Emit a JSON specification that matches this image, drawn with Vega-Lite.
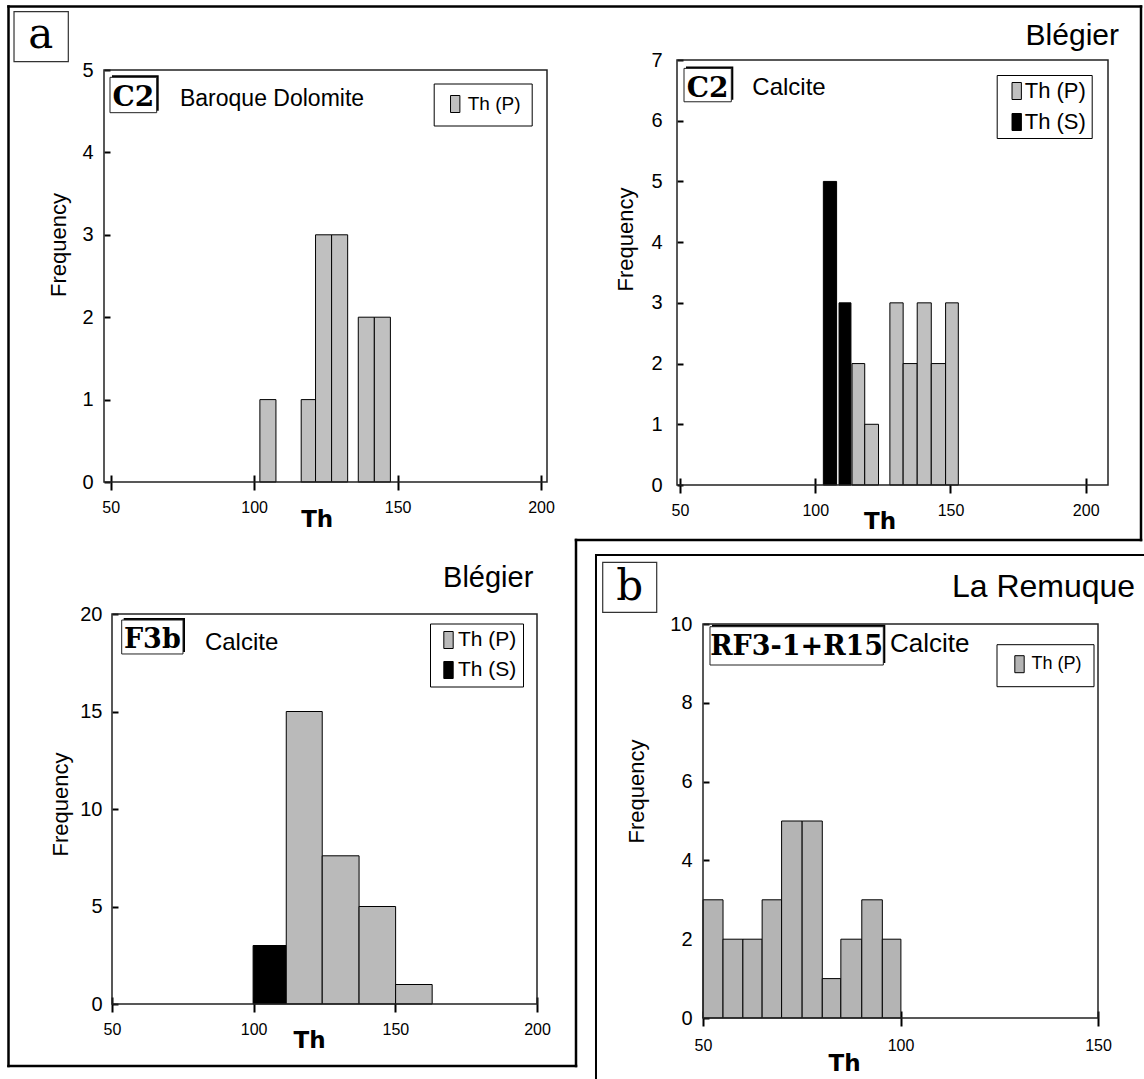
{
  "$schema": "https://vega.github.io/schema/vega-lite/v6.json",
  "autosize": {"type": "none"},
  "padding": {"left": 104, "top": 60, "right": 1040, "bottom": 1019},
  "background": "white",
  "columns": 2,
  "bounds": "flush",
  "align": "each",
  "spacing": {"row": 129, "column": 130},
  "resolve": {"scale": {"color": "independent"}, "legend": {"color": "independent"}},
  "config": {
    "view": {"stroke": null},
    "axis": {"domain": false, "grid": false, "labelColor": "black", "tickColor": "black", "titleColor": "black", "labelFont": "Liberation Sans", "labelFlush": false, "labelOverlap": false, "zindex": 1, "titleFontWeight": "normal"},
    "legend": {"orient": "none", "direction": "vertical", "strokeColor": "black", "fillColor": "white", "symbolType": "M-0.55,-1H0.55V1H-0.55Z", "symbolSize": 289, "symbolStrokeColor": "black", "symbolStrokeWidth": 1, "labelFont": "Liberation Sans", "labelColor": "black"},
    "text": {"color": "black"}
  },
  "concat": [
    {
      "width": 443, "height": 422,
      "layer": [
        {
          "data": {"values": [{}]},
          "layer": [
            {"mark": {"type": "rule", "stroke": "black", "strokeWidth": 2.5, "strokeCap": "square"}, "encoding": {"x": {"datum": 14.37}, "x2": {"datum": 409.16}, "y": {"datum": 5.771}}},
            {"mark": {"type": "rule", "stroke": "black", "strokeWidth": 2.5, "strokeCap": "square"}, "encoding": {"x": {"datum": 409.16}, "y": {"datum": 5.771}, "y2": {"datum": -0.704}}},
            {"mark": {"type": "rule", "stroke": "black", "strokeWidth": 2.5, "strokeCap": "square"}, "encoding": {"x": {"datum": 212.2}, "x2": {"datum": 409.16}, "y": {"datum": -0.704}}},
            {"mark": {"type": "rule", "stroke": "black", "strokeWidth": 2.5, "strokeCap": "square"}, "encoding": {"x": {"datum": 212.2}, "y": {"datum": -0.704}, "y2": {"datum": -7.087}}},
            {"mark": {"type": "rule", "stroke": "black", "strokeWidth": 2.5, "strokeCap": "square"}, "encoding": {"x": {"datum": 14.37}, "x2": {"datum": 212.2}, "y": {"datum": -7.087}}},
            {"mark": {"type": "rule", "stroke": "black", "strokeWidth": 2.5, "strokeCap": "square"}, "encoding": {"x": {"datum": 14.37}, "y": {"datum": 5.771}, "y2": {"datum": -7.087}}},
            {"mark": {"type": "rule", "stroke": "black", "strokeWidth": 2, "strokeCap": "square"}, "encoding": {"x": {"datum": 219.17}, "x2": {"datum": 411}, "y": {"datum": -0.886}}},
            {"mark": {"type": "rule", "stroke": "black", "strokeWidth": 2, "strokeCap": "square"}, "encoding": {"x": {"datum": 219.17}, "y": {"datum": -0.886}, "y2": {"datum": -7.4}}},
            {"mark": {"type": "rect", "fill": "white", "stroke": "#333", "strokeWidth": 1.2}, "encoding": {"x": {"datum": 16.29}, "x2": {"datum": 35.22}, "y": {"datum": 5.101}, "y2": {"datum": 5.708}}},
            {"mark": {"type": "text", "text": "a", "font": "DejaVu Serif", "fontSize": 42, "align": "center", "baseline": "alphabetic"}, "encoding": {"x": {"datum": 25.63}, "y": {"datum": 5.263}}}
          ]
        },
        {
          "data": {"values": [
            {"lo": 102.0, "hi": 107.6, "count": 1, "series": "Th (P)"},
            {"lo": 116.4, "hi": 121.4, "count": 1, "series": "Th (P)"},
            {"lo": 121.4, "hi": 127.0, "count": 3, "series": "Th (P)"},
            {"lo": 127.0, "hi": 132.6, "count": 3, "series": "Th (P)"},
            {"lo": 136.3, "hi": 141.9, "count": 2, "series": "Th (P)"},
            {"lo": 141.9, "hi": 147.5, "count": 2, "series": "Th (P)"}
          ]},
          "mark": {"type": "rect", "stroke": "black", "strokeWidth": 1},
          "encoding": {
            "x": {"field": "lo", "type": "quantitative", "scale": {"domain": [47.66, 202.09], "nice": false, "zero": false},
                  "axis": {"values": [50, 100, 150, 200], "offset": -7, "tickSize": 15, "tickWidth": 2, "labelPadding": 9, "labelFontSize": 16, "title": "Th", "titleFont": "DejaVu Sans", "titleFontWeight": "bold", "titleFontSize": 23, "titleX": 212.7, "titleY": 51, "titleBaseline": "alphabetic", "titleAlign": "center"}},
            "x2": {"field": "hi"},
            "y": {"field": "count", "type": "quantitative", "scale": {"domain": [0, 5], "range": [422, 10], "nice": false, "zero": false},
                  "axis": {"values": [0, 1, 2, 3, 4, 5], "format": "d", "offset": -6, "tickSize": 6, "tickWidth": 2, "labelPadding": 11, "labelFontSize": 20, "title": "Frequency", "titleFont": "Liberation Sans", "titleFontSize": 22, "titleX": -40, "titleY": 184.5}},
            "y2": {"datum": 0},
            "color": {"field": "series", "type": "nominal", "scale": {"domain": ["Th (P)"], "range": ["#c0c0c0"]},
                      "legend": {"title": null, "legendX": 329.7, "legendY": 23.5, "padding": 11, "symbolOffset": 1, "labelOffset": 3, "labelFontSize": 19}}
          }
        },
        {
          "data": {"values": [{"tag": "C2", "mineral": "Baroque Dolomite"}]},
          "layer": [
            {"mark": {"type": "rect", "fill": "none", "stroke": "#222", "strokeWidth": 1.5}, "encoding": {"x": {"datum": 47.66}, "x2": {"datum": 202.09}, "y": {"datum": 0}, "y2": {"datum": 5}}},
            {"mark": {"type": "rect", "fill": "black", "xOffset": 2, "x2Offset": 2, "yOffset": -2, "y2Offset": -2}, "encoding": {"x": {"datum": 49.75}, "x2": {"datum": 66.03}, "y": {"datum": 4.482}, "y2": {"datum": 4.911}}},
            {"mark": {"type": "rect", "fill": "white", "stroke": "#222", "strokeWidth": 1}, "encoding": {"x": {"datum": 49.75}, "x2": {"datum": 66.03}, "y": {"datum": 4.482}, "y2": {"datum": 4.911}}},
            {"mark": {"type": "text", "font": "DejaVu Serif", "fontWeight": "bold", "fontSize": 28, "align": "center", "baseline": "alphabetic"}, "encoding": {"text": {"field": "tag"}, "x": {"datum": 57.9}, "y": {"datum": 4.563}}},
            {"mark": {"type": "text", "font": "Liberation Sans", "fontSize": 23, "align": "left", "baseline": "alphabetic"}, "encoding": {"text": {"field": "mineral"}, "x": {"datum": 74.15}, "y": {"datum": 4.563}}}
          ]
        }
      ]
    },
    {
      "width": 431, "height": 425,
      "layer": [
        {
          "data": {"values": [
            {"lo": 103.0, "hi": 107.9, "count": 5, "series": "Th (S)"},
            {"lo": 108.8, "hi": 113.2, "count": 3, "series": "Th (S)"},
            {"lo": 113.6, "hi": 118.3, "count": 2, "series": "Th (P)"},
            {"lo": 118.3, "hi": 123.4, "count": 1, "series": "Th (P)"},
            {"lo": 127.6, "hi": 132.5, "count": 3, "series": "Th (P)"},
            {"lo": 132.5, "hi": 137.7, "count": 2, "series": "Th (P)"},
            {"lo": 137.7, "hi": 142.9, "count": 3, "series": "Th (P)"},
            {"lo": 142.9, "hi": 148.2, "count": 2, "series": "Th (P)"},
            {"lo": 148.2, "hi": 152.9, "count": 3, "series": "Th (P)"}
          ]},
          "mark": {"type": "rect", "stroke": "black", "strokeWidth": 1},
          "encoding": {
            "x": {"field": "lo", "type": "quantitative", "scale": {"domain": [48.891, 208.24], "nice": false, "zero": false},
                  "axis": {"values": [50, 100, 150, 200], "offset": -7, "tickSize": 15, "tickWidth": 2, "labelPadding": 9, "labelFontSize": 16, "title": "Th", "titleFont": "DejaVu Sans", "titleFontWeight": "bold", "titleFontSize": 23, "titleX": 202.5, "titleY": 50, "titleBaseline": "alphabetic", "titleAlign": "center"}},
            "x2": {"field": "hi"},
            "y": {"field": "count", "type": "quantitative", "scale": {"domain": [0, 7], "nice": false, "zero": false},
                  "axis": {"values": [0, 1, 2, 3, 4, 5, 6, 7], "format": "d", "offset": -6, "tickSize": 6, "tickWidth": 2, "labelPadding": 15, "labelFontSize": 20, "title": "Frequency", "titleFont": "Liberation Sans", "titleFontSize": 22, "titleX": -45.4, "titleY": 179}},
            "y2": {"datum": 0},
            "color": {"field": "series", "type": "nominal", "scale": {"domain": ["Th (P)", "Th (S)"], "range": ["#c0c0c0", "#000000"]},
                      "legend": {"title": null, "legendX": 319.7, "legendY": 15, "padding": 5, "rowPadding": 9, "symbolOffset": 4, "labelOffset": -3, "labelFontSize": 22}}
          }
        },
        {
          "data": {"values": [{"tag": "C2", "mineral": "Calcite", "site": "Blégier"}]},
          "layer": [
            {"mark": {"type": "rect", "fill": "none", "stroke": "#222", "strokeWidth": 1.5}, "encoding": {"x": {"datum": 48.891}, "x2": {"datum": 208.24}, "y": {"datum": 0}, "y2": {"datum": 7}}},
            {"mark": {"type": "rect", "fill": "black", "xOffset": 2, "x2Offset": 2, "yOffset": -2, "y2Offset": -2}, "encoding": {"x": {"datum": 51.48}, "x2": {"datum": 68.97}, "y": {"datum": 6.312}, "y2": {"datum": 6.862}}},
            {"mark": {"type": "rect", "fill": "white", "stroke": "#222", "strokeWidth": 1}, "encoding": {"x": {"datum": 51.48}, "x2": {"datum": 68.97}, "y": {"datum": 6.312}, "y2": {"datum": 6.862}}},
            {"mark": {"type": "text", "font": "DejaVu Serif", "fontWeight": "bold", "fontSize": 28, "align": "center", "baseline": "alphabetic"}, "encoding": {"text": {"field": "tag"}, "x": {"datum": 60.2}, "y": {"datum": 6.395}}},
            {"mark": {"type": "text", "font": "Liberation Sans", "fontSize": 24, "align": "left", "baseline": "alphabetic"}, "encoding": {"text": {"field": "mineral"}, "x": {"datum": 76.73}, "y": {"datum": 6.423}}},
            {"mark": {"type": "text", "font": "Liberation Sans", "fontSize": 30, "align": "right", "baseline": "alphabetic"}, "encoding": {"text": {"field": "site"}, "x": {"datum": 212.3}, "y": {"datum": 7.255}}}
          ]
        }
      ]
    },
    {
      "width": 433, "height": 390,
      "layer": [
        {
          "data": {"values": [
            {"lo": 99.8, "hi": 111.5, "count": 3, "series": "Th (S)"},
            {"lo": 111.5, "hi": 124.2, "count": 15, "series": "Th (P)"},
            {"lo": 124.2, "hi": 137.2, "count": 7.6, "series": "Th (P)"},
            {"lo": 137.2, "hi": 150.1, "count": 5, "series": "Th (P)"},
            {"lo": 150.1, "hi": 163.0, "count": 1, "series": "Th (P)"}
          ]},
          "mark": {"type": "rect", "stroke": "black", "strokeWidth": 1},
          "encoding": {
            "x": {"field": "lo", "type": "quantitative", "scale": {"domain": [50, 200], "range": [8, 433], "nice": false, "zero": false},
                  "axis": {"values": [50, 100, 150, 200], "offset": -7, "tickSize": 15, "tickWidth": 2, "labelPadding": 9, "labelFontSize": 16, "title": "Th", "titleFont": "DejaVu Sans", "titleFontWeight": "bold", "titleFontSize": 23, "titleX": 205, "titleY": 50, "titleBaseline": "alphabetic", "titleAlign": "center"}},
            "x2": {"field": "hi"},
            "y": {"field": "count", "type": "quantitative", "scale": {"domain": [0, 20], "nice": false, "zero": false},
                  "axis": {"values": [0, 5, 10, 15, 20], "format": "d", "offset": -14, "tickSize": 6, "tickWidth": 2, "labelPadding": 10, "labelFontSize": 20, "title": "Frequency", "titleFont": "Liberation Sans", "titleFontSize": 22, "titleX": -46, "titleY": 190}},
            "y2": {"datum": 0},
            "color": {"field": "series", "type": "nominal", "scale": {"domain": ["Th (P)", "Th (S)"], "range": ["#bababa", "#000000"]},
                      "legend": {"title": null, "legendX": 326, "legendY": 9.5, "padding": 6, "rowPadding": 8, "symbolOffset": 2, "labelOffset": -1, "labelFontSize": 21}}
          }
        },
        {
          "data": {"values": [{"tag": "F3b", "mineral": "Calcite", "site": "Blégier"}]},
          "layer": [
            {"mark": {"type": "rect", "fill": "none", "stroke": "#222", "strokeWidth": 1.5}, "encoding": {"x": {"datum": 50}, "x2": {"datum": 200}, "y": {"datum": 0}, "y2": {"datum": 20}}},
            {"mark": {"type": "rect", "fill": "black", "xOffset": 2, "x2Offset": 2, "yOffset": -2, "y2Offset": -2}, "encoding": {"x": {"datum": 53.42}, "x2": {"datum": 75.06}, "y": {"datum": 17.95}, "y2": {"datum": 19.69}}},
            {"mark": {"type": "rect", "fill": "white", "stroke": "#222", "strokeWidth": 1}, "encoding": {"x": {"datum": 53.42}, "x2": {"datum": 75.06}, "y": {"datum": 17.95}, "y2": {"datum": 19.69}}},
            {"mark": {"type": "text", "font": "DejaVu Serif", "fontWeight": "bold", "fontSize": 27, "align": "center", "baseline": "alphabetic"}, "encoding": {"text": {"field": "tag"}, "x": {"datum": 64.24}, "y": {"datum": 18.26}}},
            {"mark": {"type": "text", "font": "Liberation Sans", "fontSize": 24, "align": "left", "baseline": "alphabetic"}, "encoding": {"text": {"field": "mineral"}, "x": {"datum": 82.79}, "y": {"datum": 18.13}}},
            {"mark": {"type": "text", "font": "Liberation Sans", "fontSize": 29, "align": "right", "baseline": "alphabetic"}, "encoding": {"text": {"field": "site"}, "x": {"datum": 198.7}, "y": {"datum": 21.4}}}
          ]
        }
      ]
    },
    {
      "width": 421, "height": 404,
      "layer": [
        {
          "data": {"values": [
            {"lo": 50.0, "hi": 55.07, "count": 3, "series": "Th (P)"},
            {"lo": 55.07, "hi": 60.1, "count": 2, "series": "Th (P)"},
            {"lo": 60.1, "hi": 64.97, "count": 2, "series": "Th (P)"},
            {"lo": 64.97, "hi": 69.9, "count": 3, "series": "Th (P)"},
            {"lo": 69.9, "hi": 75.1, "count": 5, "series": "Th (P)"},
            {"lo": 75.1, "hi": 80.2, "count": 5, "series": "Th (P)"},
            {"lo": 80.2, "hi": 84.9, "count": 1, "series": "Th (P)"},
            {"lo": 84.9, "hi": 90.2, "count": 2, "series": "Th (P)"},
            {"lo": 90.2, "hi": 95.4, "count": 3, "series": "Th (P)"},
            {"lo": 95.4, "hi": 100.1, "count": 2, "series": "Th (P)"}
          ]},
          "mark": {"type": "rect", "stroke": "black", "strokeWidth": 1},
          "encoding": {
            "x": {"field": "lo", "type": "quantitative", "scale": {"domain": [50, 150], "range": [26, 421], "nice": false, "zero": false},
                  "axis": {"values": [50, 100, 150], "offset": -7, "tickSize": 15, "tickWidth": 2, "labelPadding": 11, "labelFontSize": 16, "title": "Th", "titleFont": "DejaVu Sans", "titleFontWeight": "bold", "titleFontSize": 23, "titleX": 167, "titleY": 59, "titleBaseline": "alphabetic", "titleAlign": "center"}},
            "x2": {"field": "hi"},
            "y": {"field": "count", "type": "quantitative", "scale": {"domain": [0, 10], "range": [404, 10], "nice": false, "zero": false},
                  "axis": {"values": [0, 2, 4, 6, 8, 10], "format": "d", "offset": -32, "tickSize": 6, "tickWidth": 2, "labelPadding": 11, "labelFontSize": 20, "title": "Frequency", "titleFont": "Liberation Sans", "titleFontSize": 22, "titleX": -60.4, "titleY": 177}},
            "y2": {"datum": 0},
            "color": {"field": "series", "type": "nominal", "scale": {"domain": ["Th (P)"], "range": ["#b4b4b4"]},
                      "legend": {"title": null, "legendX": 319.5, "legendY": 30.2, "padding": 11, "symbolOffset": 3, "labelOffset": 3, "labelFontSize": 18}}
          }
        },
        {
          "data": {"values": [{"tag": "RF3-1+R15", "mineral": "Calcite", "site": "La Remuque"}]},
          "layer": [
            {"mark": {"type": "rect", "fill": "none", "stroke": "#222", "strokeWidth": 1.5}, "encoding": {"x": {"datum": 50}, "x2": {"datum": 150}, "y": {"datum": 0}, "y2": {"datum": 10}}},
            {"mark": {"type": "rect", "fill": "black", "xOffset": 2, "x2Offset": 2, "yOffset": -2, "y2Offset": -2}, "encoding": {"x": {"datum": 51.77}, "x2": {"datum": 95.65}, "y": {"datum": 8.959}, "y2": {"datum": 9.931}}},
            {"mark": {"type": "rect", "fill": "white", "stroke": "#222", "strokeWidth": 1}, "encoding": {"x": {"datum": 51.77}, "x2": {"datum": 95.65}, "y": {"datum": 8.959}, "y2": {"datum": 9.931}}},
            {"mark": {"type": "text", "font": "DejaVu Serif", "fontWeight": "bold", "fontSize": 27, "align": "center", "baseline": "alphabetic"}, "encoding": {"text": {"field": "tag"}, "x": {"datum": 73.71}, "y": {"datum": 9.213}}},
            {"mark": {"type": "text", "font": "Liberation Sans", "fontSize": 26, "align": "left", "baseline": "alphabetic"}, "encoding": {"text": {"field": "mineral"}, "x": {"datum": 97.34}, "y": {"datum": 9.297}}},
            {"mark": {"type": "text", "font": "Liberation Sans", "fontSize": 32, "align": "right", "baseline": "alphabetic"}, "encoding": {"text": {"field": "site"}, "x": {"datum": 159.4}, "y": {"datum": 10.69}}},
            {"mark": {"type": "rect", "fill": "white", "stroke": "#333", "strokeWidth": 1.2}, "encoding": {"x": {"datum": 24.61}, "x2": {"datum": 38.28}, "y": {"datum": 10.297}, "y2": {"datum": 11.566}}},
            {"mark": {"type": "text", "text": "b", "font": "DejaVu Serif", "fontSize": 42, "align": "center", "baseline": "alphabetic"}, "encoding": {"x": {"datum": 31.45}, "y": {"datum": 10.61}}}
          ]
        }
      ]
    }
  ]
}
